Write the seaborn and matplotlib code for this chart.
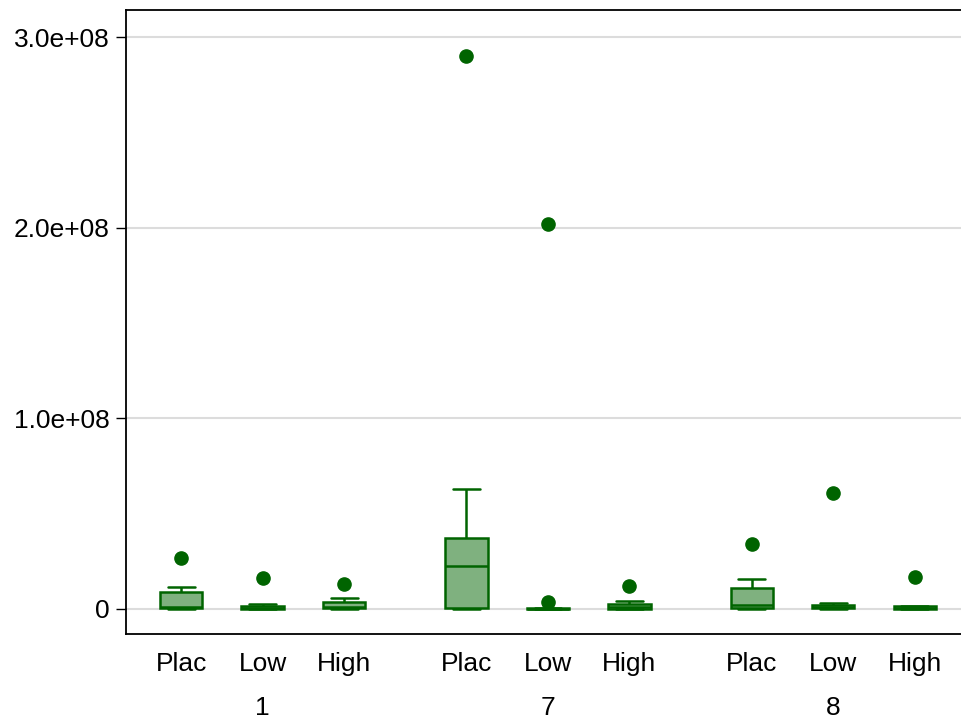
import numpy as np
import pandas as pd
import matplotlib
matplotlib.use("Agg")
import matplotlib.pyplot as plt
import seaborn as sns

# Measurements (in millions) for each day / dose group
days = ["1", "7", "8"]
doses = ["Plac", "Low", "High"]

day1_plac = [0.05, 0.2, 0.3, 0.7, 1.2, 4.5, 8.9, 11.4, 26.6]
day1_low = [0.0, 0.1, 0.2, 0.35, 0.5, 1.0, 1.5, 2.8, 16.0]
day1_high = [0.1, 0.3, 0.4, 0.7, 1.0, 2.5, 3.8, 5.6, 13.3]
day7_plac = [0.2, 0.3, 0.35, 10.0, 22.5, 30.0, 37.0, 62.8, 290.0]
day7_low = [0.0, 0.02, 0.05, 0.1, 0.2, 0.3, 0.4, 3.7, 202.0]
day7_high = [0.0, 0.05, 0.1, 0.4, 0.8, 1.5, 2.4, 4.4, 12.0]
day8_plac = [0.1, 0.2, 0.35, 1.0, 2.1, 6.0, 10.8, 15.6, 34.1]
day8_low = [0.1, 0.2, 0.3, 0.7, 1.2, 1.8, 2.3, 3.3, 61.0]
day8_high = [0.0, 0.1, 0.2, 0.4, 0.6, 1.0, 1.5, 1.8, 16.6]

groups = [
    [day1_plac, day1_low, day1_high],
    [day7_plac, day7_low, day7_high],
    [day8_plac, day8_low, day8_high],
]

y_ticks = [0, 1e8, 2e8, 3e8]
y_tick_labels = ["0", "1.0e+08", "2.0e+08", "3.0e+08"]

# Positions: doses one unit apart, extra gap between days
group_stride = 3.5
rows = []
for di, day in enumerate(days):
    for ki, dose in enumerate(doses):
        for v in groups[di][ki]:
            rows.append({"day": day, "dose": dose,
                         "pos": di * group_stride + ki, "value": v * 1e6})
df = pd.DataFrame(rows)

green = "#006400"
fill = (0.0, 100 / 255, 0.0, 0.5)

sns.set_style("white")
plt.rcParams["font.family"] = ["Liberation Sans", "DejaVu Sans"]
plt.rcParams["text.color"] = "black"
plt.rcParams["xtick.color"] = "black"
plt.rcParams["ytick.color"] = "black"

fig = plt.figure(figsize=(9.62, 7.22), dpi=100)
ax = fig.add_axes([0.131, 0.122, 0.875, 0.864])

sns.boxplot(
    data=df, x="pos", y="value", native_scale=True, width=0.52,
    color=green, linewidth=1.8, fliersize=9.5, ax=ax,
    capwidths=0.33,
    flierprops=dict(marker="o", markerfacecolor=green,
                    markeredgecolor=green),
    medianprops=dict(color=green),
    whiskerprops=dict(color=green),
    capprops=dict(color=green),
    boxprops=dict(edgecolor=green),
)
for p in ax.patches:
    p.set_facecolor(fill)
    p.set_edgecolor(green)

ax.set_xlim(-0.676, 9.65)
ax.set_ylim(-1.31e7, 3.1416e8)

ax.set_yticks(y_ticks, y_tick_labels)
positions = [di * group_stride + ki for di in range(len(days)) for ki in range(len(doses))]
ax.set_xticks(positions, doses * len(days))
ax.tick_params(axis="x", length=0, pad=13, labelsize=19, labelcolor="black")
ax.tick_params(axis="y", length=7, width=1, pad=5, labelsize=19,
               color="black", labelcolor="black", left=True)

for di, day in enumerate(days):
    ax.annotate(day, xy=(di * group_stride + 1, 0),
                xycoords=("data", "axes fraction"),
                xytext=(0, -58.3), textcoords="offset points",
                ha="center", va="baseline", fontsize=19, color="black")

ax.yaxis.grid(True, color="#dcdcdc", linewidth=1.5)
ax.xaxis.grid(False)
ax.set_axisbelow(True)
for side in ["left", "top", "bottom"]:
    ax.spines[side].set_visible(True)
    ax.spines[side].set_color("black")
    ax.spines[side].set_linewidth(1.3)
ax.spines["right"].set_visible(False)
ax.set_xlabel("")
ax.set_ylabel("")

fig.savefig("out.png", dpi=100)
